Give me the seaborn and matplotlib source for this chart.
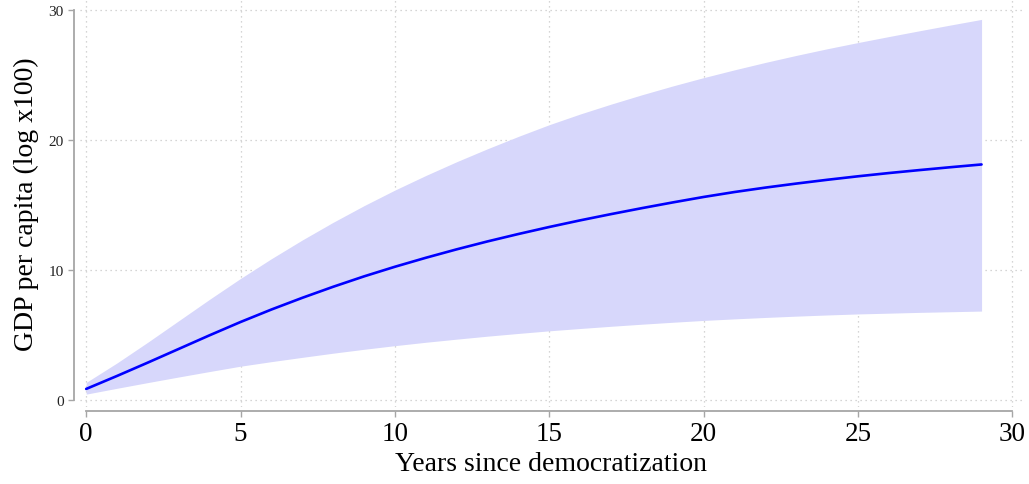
import numpy as np
import pandas as pd
import matplotlib
matplotlib.use("Agg")
import matplotlib.pyplot as plt
import seaborn as sns

years = list(range(0, 30))
mean_gdp = [0.85, 1.85, 2.88, 3.93, 4.98, 6.0, 6.96, 7.86, 8.71, 9.51,
            10.25, 10.94, 11.59, 12.2, 12.77, 13.31, 13.82, 14.3, 14.76, 15.2,
            15.62, 16.0, 16.34, 16.65, 16.94, 17.21, 17.46, 17.69, 17.91, 18.12]
upper_ci = [1.35, 2.85, 4.45, 6.1, 7.75, 9.35, 10.87, 12.31, 13.67, 14.95,
            16.15, 17.27, 18.33, 19.33, 20.28, 21.18, 22.0, 22.76, 23.48, 24.16,
            24.8, 25.4, 25.97, 26.51, 27.02, 27.5, 27.96, 28.41, 28.85, 29.28]
lower_ci = [0.45, 0.9, 1.34, 1.77, 2.19, 2.6, 2.95, 3.28, 3.6, 3.9,
            4.18, 4.44, 4.68, 4.91, 5.12, 5.32, 5.5, 5.67, 5.83, 5.98,
            6.12, 6.24, 6.35, 6.45, 6.54, 6.62, 6.68, 6.74, 6.79, 6.84]
x_ticks = [0, 5, 10, 15, 20, 25, 30]
y_ticks = [0, 10, 20, 30]

df = pd.DataFrame({"year": years, "mean": mean_gdp,
                   "lo": lower_ci, "hi": upper_ci})

sns.set_theme(style="white")
plt.rcParams["font.family"] = ["Liberation Serif", "DejaVu Serif"]
plt.rcParams["text.color"] = "black"
plt.rcParams["axes.labelcolor"] = "black"

fig = plt.figure(figsize=(10.29, 4.85), dpi=100)
ax = fig.add_axes([80 / 1029, 1 - 408 / 485, (1022 - 80) / 1029, 408 / 485])

ax.fill_between(df["year"], df["lo"], df["hi"], color="#d7d7fb", linewidth=0, zorder=1)
sns.lineplot(data=df, x="year", y="mean", color="#0000ff", linewidth=1.9, ax=ax,
             zorder=3, solid_joinstyle="round")

ax.set_xlim(-0.2, 30.31)
ax.set_ylim(-0.54, 30.85)
ax.set_xticks(x_ticks)
ax.set_yticks(y_ticks)

ax.grid(True, linestyle=(0, (1, 3)), color="#c8c8c8", linewidth=0.9, zorder=0)
ax.set_axisbelow(True)

for s in ["top", "right"]:
    ax.spines[s].set_visible(False)
for s in ["left", "bottom"]:
    ax.spines[s].set_color("#a6a6a6")
    ax.spines[s].set_linewidth(1.3)
ax.spines["left"].set_position(("outward", 4.3))
ax.spines["bottom"].set_position(("outward", 2.9))
ax.spines["left"].set_bounds(0, 30)
ax.spines["bottom"].set_bounds(0, 30)

ax.tick_params(axis="both", which="both", direction="out", length=4.5,
               width=1.0, color="#a6a6a6", labelcolor="black",
               left=True, bottom=True)
ax.tick_params(axis="y", labelsize=11, pad=3, labelcolor="#222222")
ax.tick_params(axis="x", labelsize=19.5, pad=3)

ax.set_xlabel("Years since democratization", fontsize=20, labelpad=3, color="black")
ax.set_ylabel("GDP per capita (log x100)", fontsize=20, labelpad=7, color="black")

fig.savefig("out.png", dpi=100)
